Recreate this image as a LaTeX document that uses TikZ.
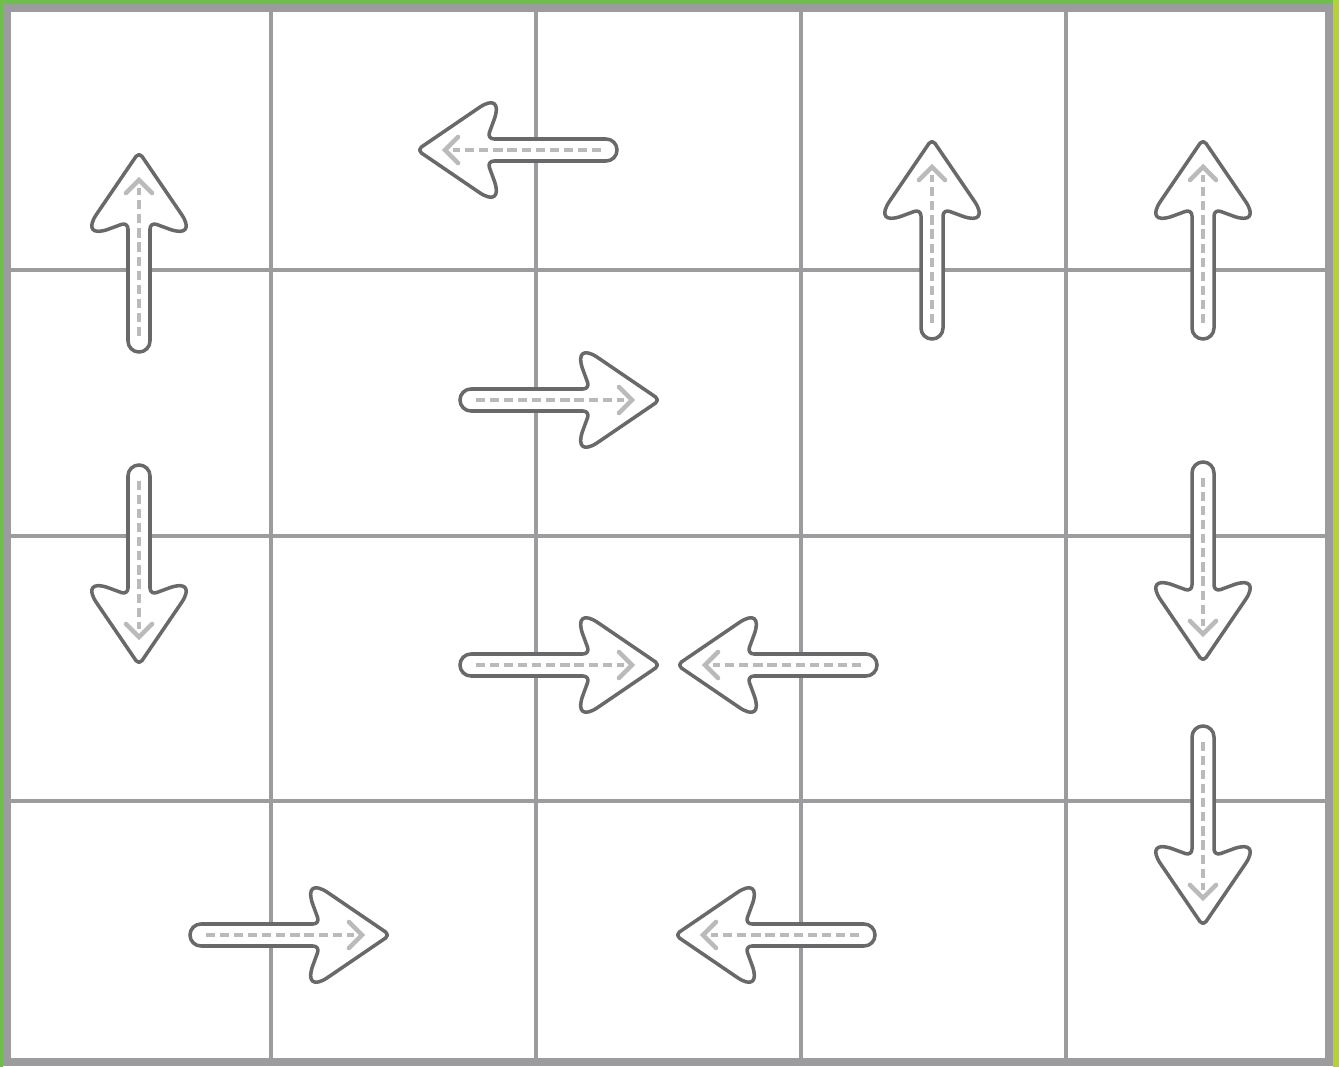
\documentclass[tikz,border=0pt]{standalone}
\usetikzlibrary{arrows.meta}

\definecolor{gridgray}{HTML}{9C9C9E}
\definecolor{arrowgray}{HTML}{69696B}
\definecolor{dashgray}{HTML}{BABABA}
\definecolor{framegreen}{HTML}{6DBE4B}
\definecolor{limegreen}{HTML}{B4D234}

\begin{document}
\begin{tikzpicture}[
    x=0.01cm, y=-0.01cm, % one unit = one pixel of the sheet
    gridline/.style={gridgray, line width=1.3pt}, % Style for inner grid lines
    frameline/.style={gridgray, line width=2.3pt}, % Style for the outer frame
    arrowline/.style={fill=white, draw=arrowgray, line width=1pt, line join=round}, % Style for arrow outlines
    dashline/.style={dashgray, line width=1.1pt, dash pattern=on 2.6pt off 1.4pt}, % Style for inner dashes
    arr/.pic={
        % outline of the arrow, tail at the origin, tip at (200,0)
        \path[arrowline] (11,11) [rounded corners=2pt] -- (130,11)
            [rounded corners=8.9pt] -- (112,60) [rounded corners=1.5pt] -- (200,0)
            [rounded corners=8.9pt] -- (112,-60) [rounded corners=2pt] -- (130,-11)
            [rounded corners=3.1pt] -- (0,-11) -- (0,11) [sharp corners] -- cycle;
        % dashed guide inside
        \draw[dashline] (16,0) -- (164,0);
        \draw[dashgray, line width=1.3pt, line cap=round] (159,-13) -- (172,0) -- (159,13);
    }
]

    % Sheet and green edges
    \useasboundingbox (0,0) rectangle (1339,1067);
    \fill[white] (0,0) rectangle (1339,1067);
    \fill[framegreen] (0,0) rectangle (1339,4);
    \fill[framegreen] (0,0) rectangle (3,1067);
    \fill[limegreen] (1333,0) rectangle (1339,1067);

    % Grid
    \foreach \gx in {271,536,801,1066}
        \draw[gridline] (\gx,8) -- (\gx,1062);
    \foreach \gy in {270,536,801}
        \draw[gridline] (7,\gy) -- (1329,\gy);
    \draw[frameline] (7,8) rectangle (1329,1062);

    % Arrows (placed by their tails)
    \pic[rotate=90] at (139,352) {arr};   % up, first column
    \pic[rotate=180] at (617,150) {arr};  % left, top row
    \pic[rotate=90] at (932,339) {arr};   % up, fourth column
    \pic[rotate=90] at (1203,339) {arr};  % up, last column
    \pic at (460,400) {arr};              % right, second row
    \pic[rotate=-90] at (139,465) {arr};  % down, first column
    \pic[rotate=-90] at (1203,462) {arr}; % down, last column
    \pic at (460,665) {arr};              % right, third row
    \pic[rotate=180] at (877,665) {arr};  % left, third row
    \pic[rotate=-90] at (1203,726) {arr}; % down, last column, lower
    \pic at (190,935) {arr};              % right, bottom row
    \pic[rotate=180] at (875,935) {arr};  % left, bottom row

\end{tikzpicture}
\end{document}
